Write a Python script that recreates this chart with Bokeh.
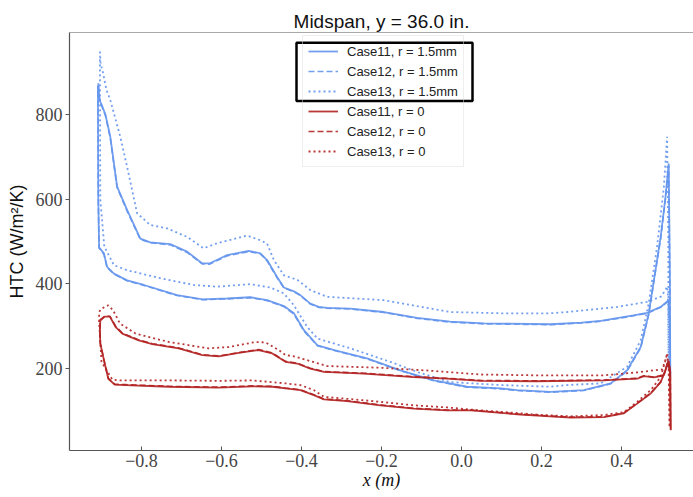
from bokeh.plotting import figure
from bokeh.models import Range1d, FixedTicker, Legend, LegendItem, BoxAnnotation, Span
from bokeh.embed import file_html
from bokeh.resources import INLINE

# ---------------- data ----------------
x_ticks = [-0.8, -0.6, -0.4, -0.2, 0.0, 0.2, 0.4]
x_tick_labels = ["\u22120.8", "\u22120.6", "\u22120.4", "\u22120.2", "0.0", "0.2", "0.4"]
y_ticks = [200, 400, 600, 800]
y_tick_labels = ["200", "400", "600", "800"]

# r = 1.5 mm, Case11 (closed loop: upper branch LE->TE, trailing edge, lower branch TE->LE)
b11_x = [-0.908, -0.905, -0.900, -0.890, -0.878, -0.861, -0.836, -0.803, -0.778, -0.728,
         -0.686, -0.648, -0.630, -0.586, -0.532, -0.503, -0.486, -0.461, -0.444, -0.419,
         -0.403, -0.378, -0.357, -0.336, -0.278, -0.194, -0.111, -0.028, 0.056, 0.222,
         0.300, 0.348, 0.430, 0.464, 0.498, 0.518,
         0.521, 0.522, 0.521,
         0.518, 0.510, 0.498, 0.485, 0.468, 0.448, 0.414, 0.373, 0.306, 0.222, 0.139,
         0.098, 0.014, -0.069, -0.153, -0.236, -0.318, -0.360, -0.394, -0.419, -0.444,
         -0.486, -0.528, -0.586, -0.647, -0.711, -0.794, -0.836, -0.869, -0.886, -0.894,
         -0.906, -0.908, -0.909]
b11_y = [875, 835, 825, 800, 748, 630, 575, 507, 498, 494,
         476, 448, 448, 468, 478, 472, 456, 416, 391, 382,
         373, 353, 345, 343, 341, 333, 319, 310, 306, 304,
         308, 312, 325, 331, 345, 361,
         300, 185, 400,
         685, 606, 511, 432, 329, 250, 195, 164, 148, 144, 148,
         152, 156, 171, 195, 223, 243, 254, 290, 330, 347,
         361, 368, 365, 363, 373, 397, 408, 424, 440, 472,
         486, 600, 870]

# r = 1.5 mm, Case12
b12_x = [-0.908, -0.905, -0.900, -0.890, -0.878, -0.861, -0.836, -0.803, -0.778, -0.728,
         -0.686, -0.648, -0.630, -0.586, -0.532, -0.503, -0.486, -0.461, -0.444, -0.419,
         -0.403, -0.378, -0.357, -0.336, -0.278, -0.194, -0.111, -0.028, 0.056, 0.222,
         0.300, 0.348, 0.430, 0.464, 0.498, 0.518,
         0.521, 0.522, 0.521,
         0.518, 0.510, 0.498, 0.485, 0.468, 0.448, 0.414, 0.373, 0.306, 0.222, 0.139,
         0.098, 0.014, -0.069, -0.153, -0.236, -0.318, -0.360, -0.394, -0.419, -0.444,
         -0.486, -0.528, -0.586, -0.647, -0.711, -0.794, -0.836, -0.869, -0.886, -0.894,
         -0.906, -0.908, -0.909]
b12_y = [868, 840, 822, 798, 745, 628, 572, 505, 497, 492,
         474, 447, 446, 466, 476, 471, 454, 414, 390, 381,
         372, 352, 344, 342, 340, 332, 318, 309, 305, 303,
         307, 311, 324, 330, 344, 360,
         298, 183, 398,
         680, 602, 508, 430, 327, 248, 193, 163, 147, 143, 147,
         151, 155, 170, 194, 222, 242, 253, 288, 328, 346,
         360, 367, 364, 362, 372, 396, 407, 423, 438, 470,
         484, 598, 865]

# r = 1.5 mm, Case13
b13_x = [-0.904, -0.902, -0.896, -0.888, -0.878, -0.853, -0.836, -0.811, -0.778, -0.736,
         -0.686, -0.645, -0.611, -0.536, -0.503, -0.486, -0.469, -0.444, -0.410, -0.378,
         -0.336, -0.194, -0.111, -0.028, 0.098, 0.222, 0.264, 0.389, 0.464, 0.500, 0.514,
         0.516, 0.518, 0.517,
         0.514, 0.506, 0.489, 0.468, 0.448, 0.414, 0.348, 0.264, 0.222, 0.098, -0.028,
         -0.111, -0.178, -0.278, -0.360, -0.386, -0.419, -0.444, -0.478, -0.528, -0.611,
         -0.669, -0.753, -0.836, -0.869, -0.893, -0.903, -0.904]
b13_y = [950, 920, 899, 860, 835, 748, 677, 567, 539, 531,
         511, 484, 496, 514, 503, 495, 456, 420, 409, 385,
         369, 361, 347, 333, 330, 330, 333, 345, 357, 370, 393,
         380, 200, 500,
         748, 630, 488, 353, 266, 203, 164, 160, 156, 160, 167,
         191, 215, 247, 270, 298, 349, 377, 391, 399, 393,
         397, 413, 432, 444, 488, 600, 940]

# r = 0, Case11
r11_x = [-0.904, -0.903, -0.892, -0.879, -0.865, -0.848, -0.807, -0.773, -0.707, -0.648,
         -0.607, -0.557, -0.507, -0.473, -0.440, -0.411, -0.378, -0.344, -0.244, -0.119,
         -0.036, 0.048, 0.189, 0.356, 0.439, 0.456, 0.481, 0.506, 0.514, 0.518,
         0.522, 0.523, 0.521,
         0.516, 0.510, 0.498, 0.473, 0.439, 0.406, 0.356, 0.273, 0.148, 0.023, -0.036,
         -0.119, -0.203, -0.286, -0.344, -0.369, -0.403, -0.440, -0.473, -0.523, -0.607,
         -0.732, -0.840, -0.867, -0.883, -0.892, -0.903, -0.904]
r11_y = [290, 313, 322, 322, 298, 282, 266, 257, 247, 231,
         228, 236, 243, 235, 215, 211, 199, 191, 187, 179,
         175, 170, 169, 171, 175, 181, 178, 183, 207, 215,
         190, 53, 190,
         215, 195, 167, 140, 116, 93, 84, 83, 90, 100, 100,
         104, 112, 122, 126, 136, 148, 152, 156, 157, 154,
         156, 160, 161, 175, 211, 258, 290]

# r = 0, Case12
r12_x = [-0.904, -0.903, -0.892, -0.879, -0.865, -0.848, -0.807, -0.773, -0.707, -0.648,
         -0.607, -0.557, -0.507, -0.473, -0.440, -0.411, -0.378, -0.344, -0.244, -0.119,
         -0.036, 0.048, 0.189, 0.356, 0.439, 0.456, 0.481, 0.506, 0.514, 0.518,
         0.522, 0.523, 0.521,
         0.516, 0.510, 0.498, 0.473, 0.439, 0.406, 0.356, 0.273, 0.148, 0.023, -0.036,
         -0.119, -0.203, -0.286, -0.344, -0.369, -0.403, -0.440, -0.473, -0.523, -0.607,
         -0.732, -0.840, -0.867, -0.883, -0.892, -0.903, -0.904]
r12_y = [292, 315, 323, 323, 300, 283, 267, 258, 248, 232,
         229, 237, 244, 236, 216, 212, 200, 192, 188, 180,
         176, 171, 170, 172, 176, 182, 179, 184, 209, 217,
         192, 55, 192,
         217, 196, 168, 141, 117, 94, 85, 84, 91, 101, 101,
         105, 113, 123, 127, 137, 149, 153, 157, 158, 155,
         157, 161, 162, 176, 212, 259, 292]

# r = 0, Case13
r13_x = [-0.906, -0.906, -0.900, -0.883, -0.871, -0.854, -0.815, -0.732, -0.632, -0.582,
         -0.515, -0.490, -0.457, -0.440, -0.419, -0.386, -0.336, -0.203, -0.078, 0.048,
         0.189, 0.356, 0.439, 0.473, 0.502, 0.514,
         0.518, 0.520, 0.518,
         0.514, 0.510, 0.498, 0.473, 0.439, 0.406, 0.356, 0.273, 0.189, 0.023, -0.036,
         -0.119, -0.244, -0.344, -0.369, -0.403, -0.440, -0.523, -0.607, -0.732, -0.854,
         -0.873, -0.900, -0.906]
r13_y = [310, 333, 341, 349, 337, 306, 282, 262, 247, 250,
         262, 261, 243, 231, 228, 219, 205, 201, 194, 185,
         183, 183, 190, 194, 197, 231,
         200, 60, 200,
         235, 219, 179, 148, 120, 96, 89, 86, 90, 102, 107,
         112, 124, 132, 148, 160, 164, 171, 170, 171, 171,
         173, 215, 310]

labels = ["Case11, r = 1.5mm", "Case12, r = 1.5mm", "Case13, r = 1.5mm",
          "Case11, r = 0", "Case12, r = 0", "Case13, r = 0"]

# ---------------- styling ----------------
BLUE = "#6495ED"
RED = "#B22222"
AXIS = "#555555"
TICK_FONT = "Liberation Serif"

x_lo, x_hi = -0.98, 0.58
y_lo, y_hi = 5, 995

p = figure(width=693, height=497, output_backend="svg", toolbar_location=None,
           x_range=Range1d(x_lo, x_hi), y_range=Range1d(y_lo, y_hi),
           min_border_left=69, min_border_right=0, min_border_top=32, min_border_bottom=47)

p.title.text = "Midspan, y = 36.0 in."
p.title.align = "center"
p.title.text_font = "Liberation Sans"
p.title.text_font_size = "19px"
p.title.text_font_style = "normal"
p.title.text_color = "#111111"
p.title.standoff = 2

p.outline_line_color = None
p.grid.visible = False
p.background_fill_color = "white"
p.border_fill_color = "white"

series = [
    (b11_x, b11_y, BLUE, "solid", 1.8),
    (b12_x, b12_y, BLUE, "6 3", 1.6),
    (b13_x, b13_y, BLUE, "2 3", 1.8),
    (r11_x, r11_y, RED, "solid", 1.8),
    (r12_x, r12_y, RED, "6 3", 1.6),
    (r13_x, r13_y, RED, "2 3", 1.8),
]
renderers = []
for xs, ys, col, dash, lw in series:
    r = p.line(xs, ys, line_color=col, line_dash=dash, line_width=lw, line_alpha=0.9)
    renderers.append(r)

# axes
p.xaxis.ticker = FixedTicker(ticks=x_ticks)
p.xaxis.major_label_overrides = {t: s for t, s in zip(x_ticks, x_tick_labels)}
p.yaxis.ticker = FixedTicker(ticks=y_ticks)
p.yaxis.major_label_overrides = {t: s for t, s in zip(y_ticks, y_tick_labels)}
for ax in (p.xaxis, p.yaxis):
    ax.axis_line_color = AXIS
    ax.axis_line_width = 1.2
    ax.major_tick_line_color = AXIS
    ax.minor_tick_line_color = None
    ax.major_label_text_font = TICK_FONT
    ax.major_label_text_font_size = "18px"
    ax.major_label_text_color = "#444444"
    ax.axis_label_text_font_style = "normal"
    ax.axis_label_text_color = "#111111"
    ax.axis_label_text_font_size = "18px"
p.xaxis.major_tick_in = 4
p.xaxis.major_tick_out = 0
p.yaxis.major_tick_in = 0
p.yaxis.major_tick_out = 4
p.xaxis.major_label_standoff = 3
p.yaxis.major_label_standoff = 3
p.xaxis.axis_label = "x (m)"
p.xaxis.axis_label_text_font = TICK_FONT
p.xaxis.axis_label_text_font_style = "italic"
p.xaxis.axis_label_standoff = 0
p.yaxis.axis_label = "HTC (W/m\u00b2/K)"
p.yaxis.axis_label_text_font = "Liberation Sans"
p.yaxis.axis_label_standoff = 6

# top spine
p.add_layout(Span(location=y_hi, dimension="width", line_color=AXIS, line_width=1.2))

legend = Legend(items=[LegendItem(label=l, renderers=[r]) for l, r in zip(labels, renderers)],
                location=(233, 283), orientation="vertical",
                glyph_width=30, glyph_height=20, label_height=20, spacing=0,
                padding=5, margin=0, label_standoff=9,
                label_text_font="Liberation Sans", label_text_font_size="13px",
                label_text_color="#222222",
                border_line_color="#dddddd", border_line_width=1,
                background_fill_alpha=0)
p.add_layout(legend)

# black highlight box around the r = 1.5mm entries
p.add_layout(BoxAnnotation(left=-0.4125, right=0.0275, top=970.6, bottom=833,
                           fill_alpha=0, line_color="black", line_alpha=1.0,
                           line_width=2.5, level="overlay"))

open("out.html", "w").write(file_html(p, INLINE))
